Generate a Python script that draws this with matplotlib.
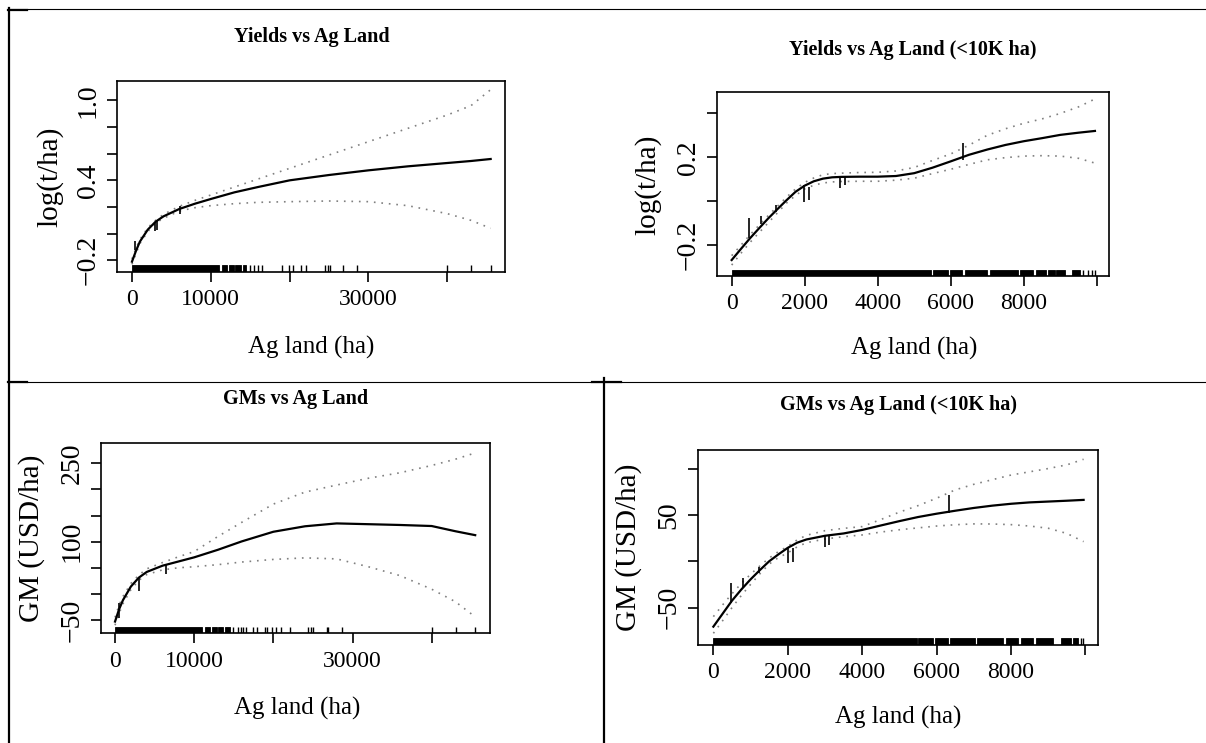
import numpy as np
import matplotlib
matplotlib.use('Agg')
import matplotlib.pyplot as plt
from matplotlib.lines import Line2D

# ---------------- data ----------------
# Panel 1: Yields vs Ag Land
p1_x = [0, 500, 1000, 2000, 3000, 4000, 6000, 8000, 10000, 13000, 16000,
        20000, 25000, 30000, 35000, 40000, 43000, 45500]
p1_fit = [-0.21, -0.13, -0.06, 0.03, 0.09, 0.13, 0.185, 0.225, 0.26, 0.31, 0.35,
          0.40, 0.44, 0.475, 0.505, 0.53, 0.545, 0.56]
p1_up = [-0.19, -0.11, -0.045, 0.045, 0.10, 0.145, 0.205, 0.25, 0.29, 0.35, 0.41,
         0.49, 0.59, 0.69, 0.79, 0.89, 0.96, 1.08]
p1_lo = [-0.23, -0.15, -0.075, 0.015, 0.08, 0.115, 0.17, 0.195, 0.21, 0.225, 0.235,
         0.24, 0.245, 0.24, 0.21, 0.15, 0.10, 0.04]
p1_rug_dense = [(0, 10985), (11400, 12040), (12250, 12885), (13100, 13815), (14025, 14490)]
p1_rug = [15000, 15420, 15930, 16480, 19010, 19860, 20490, 21460, 22100, 24500,
          24840, 25140, 26830, 28600, 39920, 43000, 45540]
p1_spk_x = [423, 2957, 3170, 6126]
p1_spk_lo = [-0.12, 0.02, 0.025, 0.15]
p1_spk_hi = [-0.055, 0.0875, 0.10, 0.205]
p1_yticks = [-0.2, 0.0, 0.2, 0.4, 0.6, 0.8, 1.0]
p1_ylabels = ['\u22120.2', '', '', '0.4', '', '', '1.0']
p1_xticks = [0, 10000, 20000, 30000, 40000]
p1_xlabels = ['0', '10000', '', '30000', '']

# Panel 2: Yields vs Ag Land (<10K ha)
p2_x = [0, 250, 500, 750, 1000, 1250, 1500, 1750, 2000, 2250, 2500, 2750, 3000,
        3500, 4000, 4500, 5000, 5500, 6000, 6500, 7000, 7500, 8000, 8500, 9000,
        9500, 9950]
p2_fit = [-0.27, -0.22, -0.171, -0.125, -0.08, -0.038, 0.003, 0.042, 0.07, 0.09,
          0.102, 0.108, 0.11, 0.111, 0.111, 0.114, 0.127, 0.152, 0.181, 0.211,
          0.235, 0.256, 0.273, 0.287, 0.302, 0.312, 0.32]
p2_up = [-0.25, -0.203, -0.155, -0.111, -0.067, -0.025, 0.017, 0.055, 0.085,
         0.105, 0.12, 0.125, 0.127, 0.13, 0.131, 0.137, 0.153, 0.185, 0.215,
         0.255, 0.30, 0.33, 0.355, 0.375, 0.40, 0.43, 0.466]
p2_lo = [-0.293, -0.24, -0.19, -0.145, -0.10, -0.055, -0.01, 0.025, 0.055, 0.072,
         0.082, 0.087, 0.089, 0.09, 0.09, 0.095, 0.104, 0.125, 0.145, 0.167,
         0.188, 0.198, 0.205, 0.207, 0.205, 0.195, 0.173]
p2_rug_dense = [(0, 5473), (5519, 5929), (5993, 6321), (6385, 6997), (7088, 7845),
                (7909, 8255), (8347, 8620), (8666, 8848), (8894, 9122), (9332, 9532)]
p2_rug = [9624, 9761, 9879, 9961]
p2_spk_x = [474, 803, 1204, 1989, 2125, 2964, 3101, 6339]
p2_spk_lo = [-0.171, -0.105, -0.052, -0.003, 0.005, 0.058, 0.073, 0.188]
p2_spk_hi = [-0.079, -0.069, -0.018, 0.073, 0.066, 0.108, 0.111, 0.267]
p2_yticks = [-0.2, 0.0, 0.2, 0.4]
p2_ylabels = ['\u22120.2', '', '0.2', '']
p2_xticks = [0, 2000, 4000, 6000, 8000, 10000]
p2_xlabels = ['0', '2000', '4000', '6000', '8000', '']

# Panel 3: GMs vs Ag Land
p3_x = [0, 500, 1000, 2000, 3000, 4000, 6000, 8000, 10000, 13000, 16000, 20000,
        24000, 28000, 32000, 36000, 40000, 43000, 45500]
p3_fit = [-53, -30, -12, 14, 31, 42, 54, 62, 70, 84.5, 100.5, 119, 129.5, 135,
          133.5, 132, 130, 120, 112.5]
p3_up = [-45, -22, -5, 20, 36, 48, 60, 71, 81, 110, 137, 172, 195, 208.5, 221.5,
         232, 246, 258, 270]
p3_lo = [-60, -38, -19, 8, 26, 37, 46, 50, 52, 56, 61, 66, 69, 67, 52, 35, 9,
         -15, -44]
p3_rug_dense = [(0, 10950), (11370, 12000), (12250, 12840), (13050, 13680), (13900, 14530)]
p3_rug = [14950, 15580, 15870, 16210, 16550, 17470, 17890, 18950, 19160, 19790,
          20340, 20970, 22110, 24420, 24720, 25050, 26740, 26950, 28630, 40000,
          43070, 45470]
p3_spk_x = [550, 3074, 6400]
p3_spk_lo = [-46.8, 6.2, 38]
p3_spk_hi = [-18, 29.8, 55.3]
p3_yticks = [-50, 0, 50, 100, 150, 200, 250]
p3_ylabels = ['\u221250', '', '', '100', '', '', '250']
p3_xticks = [0, 10000, 20000, 30000, 40000]
p3_xlabels = ['0', '10000', '', '30000', '']

# Panel 4: GMs vs Ag Land (<10K ha)
p4_x = [0, 250, 500, 750, 1000, 1250, 1500, 1750, 2000, 2250, 2500, 3000, 3500,
        4000, 4500, 5000, 5500, 6000, 6500, 7000, 7500, 8000, 8500, 9000, 9500, 9950]
p4_fit = [-70.5, -56.5, -42.5, -30.5, -19.5, -9.5, 0, 7.5, 14.5, 20, 23.5, 27.5,
          30, 33.8, 38.6, 43.3, 47.7, 51.3, 54.5, 57.5, 60, 62, 63.5, 64.4, 65.3, 66.2]
p4_up = [-59.7, -47, -35, -24, -14, -5, 3.5, 10.5, 16, 23, 28, 33, 35.5, 37.4,
         45, 53, 60, 68, 77, 83, 88, 93, 96.5, 100, 104, 110]
p4_lo = [-77.7, -64, -50, -37, -25, -13.5, -3, 4, 9, 15.5, 20, 24, 26.5, 28.4,
         31.5, 34, 36, 38, 39.4, 40.3, 40.2, 39.5, 38, 35.6, 30, 21.2]
p4_rug_dense = [(0, 5463), (5508, 5911), (5956, 6314), (6359, 7031), (7094, 7793),
                (7865, 8196), (8258, 8599), (8671, 9118), (9333, 9602), (9673, 9808)]
p4_rug = [9870, 9942]
p4_spk_x = [466, 806, 1236, 1997, 2131, 3000, 3117, 6332]
p4_spk_lo = [-45.3, -27.3, -13, -1.4, -0.4, 15, 17.6, 52.5]
p4_spk_hi = [-23.7, -18.3, -5.8, 15.8, 14, 28.4, 27.7, 71.6]
p4_yticks = [-50, 0, 50, 100]
p4_ylabels = ['\u221250', '', '50', '']
p4_xticks = [0, 2000, 4000, 6000, 8000, 10000]
p4_xlabels = ['0', '2000', '4000', '6000', '8000', '']

titles = ['Yields vs Ag Land', 'Yields vs Ag Land (<10K ha)',
          'GMs vs Ag Land', 'GMs vs Ag Land (<10K ha)']
xlab = 'Ag land (ha)'
ylabs = ['log(t/ha)', 'log(t/ha)', 'GM (USD/ha)', 'GM (USD/ha)']

# ---------------- figure ----------------
plt.rcParams['font.family'] = ['Liberation Serif', 'DejaVu Serif']
W, H = 1206, 743
fig = plt.figure(figsize=(W / 100, H / 100), dpi=100)


def rect(L, T, R, B):
    return [L / W, 1 - B / H, (R - L) / W, (B - T) / H]


def ftext(x, y, s, **kw):
    fig.text(x / W, 1 - y / H, s, ha='center', va='center', **kw)


def panel(r, x, fit, up, lo, xlim, ylim, xt, xtl, yt, ytl, dense, sparse,
          sx, slo, shi):
    ax = fig.add_axes(rect(*r))
    ax.plot(x, up, color='#808080', lw=1.2, ls=(0, (1, 3.5)))
    ax.plot(x, lo, color='#808080', lw=1.2, ls=(0, (1, 3.5)))
    ax.plot(x, fit, color='black', lw=1.6)
    ax.vlines(sx, slo, shi, color='black', lw=1.2)
    tr = ax.get_xaxis_transform()
    for a, b in dense:
        ax.axvspan(a, b, 0, 0.035, color='black', lw=0.6)
    ax.vlines(sparse, 0, 0.035, transform=tr, color='black', lw=1.0)
    ax.set_xlim(*xlim)
    ax.set_ylim(*ylim)
    ax.set_xticks(xt)
    ax.set_xticklabels(xtl)
    ax.set_yticks(yt)
    ax.set_yticklabels(ytl)
    for s in ax.spines.values():
        s.set_linewidth(1.2)
    ax.tick_params(length=7.5, width=1.2, direction='out')
    ax.tick_params(axis='x', pad=5, labelsize=17)
    ax.tick_params(axis='y', labelrotation=90, pad=4, labelsize=20)
    for lbl in ax.get_yticklabels():
        lbl.set_va('center')
    return ax


panel((117, 81, 505, 272), p1_x, p1_fit, p1_up, p1_lo, (-1900, 47320), (-0.2875, 1.145),
      p1_xticks, p1_xlabels, p1_yticks, p1_ylabels, p1_rug_dense, p1_rug,
      p1_spk_x, p1_spk_lo, p1_spk_hi)
panel((716.7, 92, 1109, 276), p2_x, p2_fit, p2_up, p2_lo, (-410, 10335), (-0.343, 0.498),
      p2_xticks, p2_xlabels, p2_yticks, p2_ylabels, p2_rug_dense, p2_rug,
      p2_spk_x, p2_spk_lo, p2_spk_hi)
panel((100.7, 442.7, 490, 633.3), p3_x, p3_fit, p3_up, p3_lo, (-1810, 47370), (-75.5, 289.6),
      p3_xticks, p3_xlabels, p3_yticks, p3_ylabels, p3_rug_dense, p3_rug,
      p3_spk_x, p3_spk_lo, p3_spk_hi)
panel((697.7, 450, 1098.3, 645), p4_x, p4_fit, p4_up, p4_lo, (-421, 10345), (-90.3, 120),
      p4_xticks, p4_xlabels, p4_yticks, p4_ylabels, p4_rug_dense, p4_rug,
      p4_spk_x, p4_spk_lo, p4_spk_hi)

# titles and labels
tpos = [(311.7, 37), (913, 50), (296, 399), (898.7, 405)]
xpos = [(311, 347), (914, 348), (297, 708), (898, 717)]
ypos = [(50, 177), (648, 185), (32, 538), (629, 547)]
for i in range(4):
    ftext(*tpos[i], titles[i], fontsize=14.5, fontweight='bold')
    ftext(*xpos[i], xlab, fontsize=18)
    ftext(*ypos[i], ylabs[i], fontsize=21, rotation=90)

# table borders
def hline(x0, x1, y, lw):
    fig.add_artist(Line2D([x0 / W, x1 / W], [1 - y / H, 1 - y / H],
                          transform=fig.transFigure, color='black', lw=lw))


def vline(x, y0, y1, lw):
    fig.add_artist(Line2D([x / W, x / W], [1 - y0 / H, 1 - y1 / H],
                          transform=fig.transFigure, color='black', lw=lw))


vline(9, 8, 743, 1.6)
hline(8, 1206, 8.5, 0.8)
hline(8, 27, 9.5, 1.6)
hline(8, 1206, 381.7, 0.8)
hline(8, 27, 382.2, 1.6)
hline(592, 621, 382.2, 1.6)
vline(603.7, 378, 743, 1.6)

fig.savefig('out.png', dpi=100)
